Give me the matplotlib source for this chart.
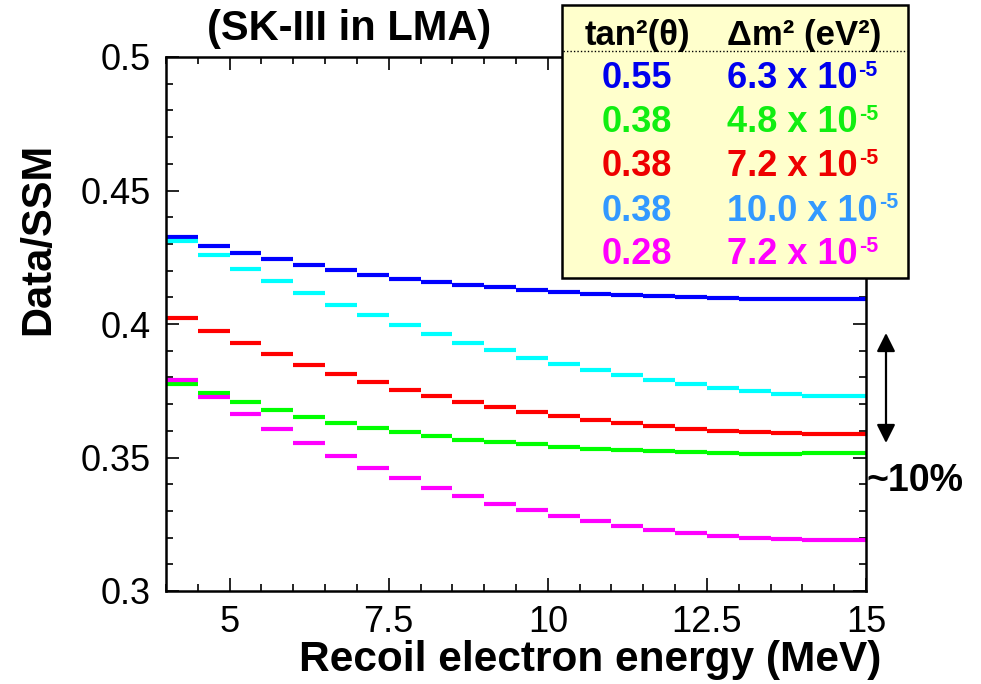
import numpy as np
import matplotlib
matplotlib.use('Agg')
import matplotlib.pyplot as plt
from matplotlib.patches import Rectangle
from matplotlib.lines import Line2D
from matplotlib.ticker import MultipleLocator

plt.rcParams['font.family'] = ['Liberation Sans', 'DejaVu Sans']

# %%
# Bin edges (0.5 MeV bins from 4 to 15 MeV)
edges = np.arange(4.0, 15.01, 0.5)

blue = [0.4325, 0.4294, 0.4267, 0.4242, 0.4222, 0.4202, 0.4185, 0.4170,
        0.4157, 0.4145, 0.4137, 0.4126, 0.4119, 0.4112, 0.4107, 0.4104,
        0.4100, 0.4096, 0.4094, 0.4093, 0.4093, 0.4093]
cyan = [0.4311, 0.4257, 0.4207, 0.4160, 0.4115, 0.4072, 0.4033, 0.3995,
        0.3961, 0.3930, 0.3901, 0.3874, 0.3849, 0.3827, 0.3808, 0.3789,
        0.3774, 0.3760, 0.3748, 0.3739, 0.3731, 0.3731]
red = [0.4024, 0.3974, 0.3929, 0.3888, 0.3848, 0.3814, 0.3783, 0.3754,
       0.3729, 0.3706, 0.3688, 0.3669, 0.3654, 0.3639, 0.3628, 0.3617,
       0.3608, 0.3600, 0.3594, 0.3591, 0.3588, 0.3588]
green = [0.3777, 0.3740, 0.3706, 0.3677, 0.3651, 0.3629, 0.3609, 0.3594,
         0.3579, 0.3567, 0.3557, 0.3549, 0.3541, 0.3533, 0.3528, 0.3523,
         0.3521, 0.3517, 0.3514, 0.3514, 0.3516, 0.3516]
magenta = [0.3792, 0.3725, 0.3663, 0.3606, 0.3553, 0.3504, 0.3462, 0.3423,
           0.3387, 0.3355, 0.3327, 0.3303, 0.3280, 0.3261, 0.3243, 0.3230,
           0.3217, 0.3207, 0.3199, 0.3194, 0.3192, 0.3192]

tan2 = ['0.55', '0.38', '0.38', '0.38', '0.28']
dm2 = ['6.3', '4.8', '7.2', '10.0', '7.2']
legend_colors = ['#0000ee', '#11ee11', '#ee0000', '#3399ff', '#ff00ff']

W, H = 981, 684

# %%
fig = plt.figure(figsize=(9.81, 6.84), dpi=100)
ax = fig.add_axes([166/W, 1 - 591/H, 700/W, 534/H])

series = [(blue, '#0000ff'), (cyan, '#00ffff'), (red, '#ff0000'),
          (green, '#00ff00'), (magenta, '#ff00ff')]
for vals, col in series:
    ax.hlines(vals, edges[:-1], edges[1:], colors=col, linewidth=3)

ax.set_xlim(4, 15)
ax.set_ylim(0.3, 0.5)
ax.xaxis.set_minor_locator(MultipleLocator(0.5))
ax.yaxis.set_minor_locator(MultipleLocator(0.01))
ax.set_xticks([5, 7.5, 10, 12.5, 15])
ax.set_xticklabels(['5', '7.5', '10', '12.5', '15'])
ax.set_yticks([0.3, 0.35, 0.4, 0.45, 0.5])
ax.set_yticklabels(['0.3', '0.35', '0.4', '0.45', '0.5'])
ax.tick_params(which='both', direction='in', top=True, right=True,
               labelsize=26, width=1.2)
ax.tick_params(which='major', length=9.5)
ax.tick_params(which='minor', length=4.8)
ax.tick_params(axis='y', pad=11)
ax.tick_params(axis='x', pad=10)
for sp in ax.spines.values():
    sp.set_linewidth(1.8)

fig.text(590/W, 1 - 660/H, 'Recoil electron energy (MeV)', fontsize=30.5,
         fontweight='bold', ha='center', va='center')
fig.text(38/W, 1 - 239/H, 'Data/SSM', fontsize=30, fontweight='bold',
         rotation=90, ha='center', va='center')
fig.text(349/W, 1 - 29/H, '(SK-III in LMA)', fontsize=30,
         fontweight='bold', ha='center', va='center')

# %%
# Legend box with parameter table
box = Rectangle((562/W, 1 - 278/H), 346/W, 273/H,
                transform=fig.transFigure, facecolor='#ffffcc',
                edgecolor='black', linewidth=1.8, zorder=5)
fig.add_artist(box)
fig.add_artist(Line2D([563/W, 907/W], [1 - 50.5/H, 1 - 50.5/H],
                      transform=fig.transFigure, color='black',
                      linestyle=(0, (1, 1.5)), linewidth=1, zorder=6))
fig.text(637/W, 1 - 45/H, 'tan²(θ)', fontsize=25, fontweight='bold',
         ha='center', va='baseline', zorder=7)
fig.text(727/W, 1 - 45/H, 'Δm² (eV²)', fontsize=25, fontweight='bold',
         ha='left', va='baseline', zorder=7)

renderer = fig.canvas.get_renderer()
row_y = [88, 132, 176, 221, 264]
for t, d, c, y in zip(tan2, dm2, legend_colors, row_y):
    fig.text(637/W, 1 - y/H, t, fontsize=26, fontweight='bold',
             color=c, ha='center', va='baseline', zorder=7)
    main = fig.text(727/W, 1 - y/H, d + ' x 10', fontsize=26,
                    fontweight='bold', color=c, ha='left', va='baseline',
                    zorder=7)
    bb = main.get_window_extent(renderer)
    fig.text((bb.x1 + 1)/W, 1 - (y - 12.5)/H, '-5', fontsize=15.5,
             fontweight='bold', color=c, ha='left', va='baseline', zorder=7)

# %%
# ~10% arrow on the right
ax.annotate('', xy=(886/W, 1 - 333/H), xytext=(886/W, 1 - 443/H),
            xycoords='figure fraction', textcoords='figure fraction',
            arrowprops=dict(arrowstyle='<|-|>', color='black', lw=1.6,
                            mutation_scale=28, shrinkA=0, shrinkB=0))
fig.text(867/W, 1 - 481/H, '~10%', fontsize=27, fontweight='bold',
         ha='left', va='center')

fig.savefig('out.png', dpi=100)
